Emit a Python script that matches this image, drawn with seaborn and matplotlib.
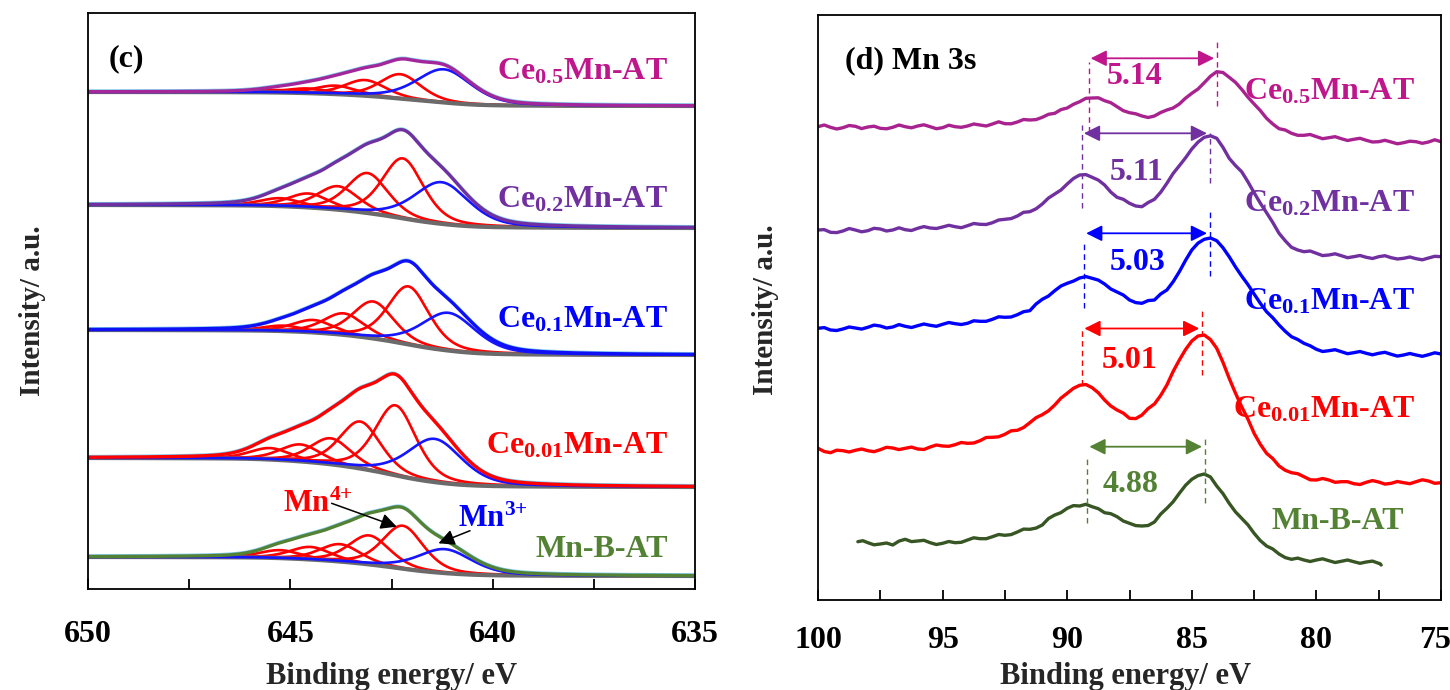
import numpy as np
import pandas as pd
import seaborn as sns
import matplotlib
matplotlib.use("Agg")
import matplotlib.pyplot as plt
import matplotlib.transforms as mtransforms
from matplotlib.ticker import MultipleLocator

# ---------------- Panel (c): Mn 2p3/2 fitted components ----------------
samples_c = ["Ce$_{0.5}$Mn-AT", "Ce$_{0.2}$Mn-AT", "Ce$_{0.1}$Mn-AT",
             "Ce$_{0.01}$Mn-AT", "Mn-B-AT"]
env_colors = ["#A3279A", "#7030A0", "#1010F5", "#FF0000", "#548235"]
text_colors_c = ["#C0168C", "#7030A0", "#0000FF", "#FF0000", "#548235"]
# background levels (a.u.) at low / high binding energy side
base_low = [483, 361, 234, 102, 13]
base_high = [497, 384, 259, 131, 32]
# Mn4+ multiplet components (eV, height a.u.)
mn4_centers = [[642.28, 643.15, 643.88, 644.58, 645.30],
               [642.22, 643.09, 643.82, 644.55, 645.25],
               [642.08, 642.95, 643.68, 644.43, 645.17],
               [642.40, 643.27, 644.00, 644.75, 645.50],
               [642.22, 643.05, 643.77, 644.50, 645.25]]
mn4_heights = [[24.3, 15.7, 8.5, 4.7, 2.5],
               [60.0, 40.0, 23.5, 14.0, 8.0],
               [58.0, 37.0, 21.5, 12.5, 5.5],
               [70.0, 47.0, 26.0, 17.0, 11.5],
               [43.0, 29.0, 17.4, 12.6, 8.0]]
# Mn3+ component
mn3_center = [641.20, 641.26, 641.09, 641.43, 641.18]
mn3_height = [33.2, 41.7, 37.8, 43.3, 24.0]

# ---------------- Panel (d): Mn 3s spectra ----------------
E_3s = [100.0, 99.75, 99.5, 99.25, 99.0, 98.75, 98.5, 98.25, 98.0, 97.75,
        97.5, 97.25, 97.0, 96.75, 96.5, 96.25, 96.0, 95.75, 95.5, 95.25,
        95.0, 94.75, 94.5, 94.25, 94.0, 93.75, 93.5, 93.25, 93.0, 92.75,
        92.5, 92.25, 92.0, 91.75, 91.5, 91.25, 91.0, 90.75, 90.5, 90.25,
        90.0, 89.75, 89.5, 89.25, 89.0, 88.75, 88.5, 88.25, 88.0, 87.75,
        87.5, 87.25, 87.0, 86.75, 86.5, 86.25, 86.0, 85.75, 85.5, 85.25,
        85.0, 84.75, 84.5, 84.25, 84.0, 83.75, 83.5, 83.25, 83.0, 82.75,
        82.5, 82.25, 82.0, 81.75, 81.5, 81.25, 81.0, 80.75, 80.5, 80.25,
        80.0, 79.75, 79.5, 79.25, 79.0, 78.75, 78.5, 78.25, 78.0, 77.75,
        77.5, 77.25, 77.0, 76.75, 76.5, 76.25, 76.0, 75.75, 75.5, 75.25, 75.0]
I_ce05 = [473.3, 475.0, 472.7, 471.0, 472.3, 474.5, 473.7, 471.4, 473.0, 473.8,
          471.7, 471.2, 472.7, 475.0, 473.3, 472.2, 474.0, 475.2, 473.3, 471.3,
          472.3, 474.8, 473.3, 472.7, 474.0, 476.0, 475.0, 474.0, 476.0, 478.2,
          476.3, 476.2, 478.0, 480.5, 480.0, 480.4, 482.7, 485.7, 486.7, 490.4,
          492.0, 495.7, 498.3, 501.7, 502.0, 502.2, 499.3, 497.3, 493.3, 489.3,
          487.3, 486.2, 484.0, 482.5, 484.0, 487.5, 490.0, 492.0, 496.0, 501.9,
          506.7, 511.0, 517.3, 523.8, 528.3, 527.5, 522.7, 517.7, 510.7, 502.9,
          496.0, 489.4, 481.7, 476.0, 471.3, 470.0, 466.7, 464.7, 464.7, 465.5,
          463.3, 461.3, 462.3, 463.3, 461.3, 459.5, 460.7, 461.7, 459.7, 458.0,
          458.3, 459.7, 458.0, 456.2, 457.3, 458.8, 458.3, 456.7, 458.0, 460.2, 458.3]
I_ce02 = [370.0, 370.4, 367.7, 367.4, 369.0, 371.5, 370.0, 368.2, 369.3, 371.7,
          371.0, 369.0, 370.0, 372.2, 370.3, 369.5, 371.7, 373.4, 372.0, 371.5,
          373.0, 374.7, 373.3, 372.3, 374.3, 376.5, 375.7, 375.5, 377.3, 380.0,
          380.7, 381.4, 384.0, 387.7, 388.3, 391.2, 396.0, 402.0, 406.0, 410.0,
          416.0, 421.5, 425.0, 425.4, 422.7, 419.9, 415.0, 407.9, 402.7, 400.7,
          396.7, 394.0, 393.3, 397.5, 400.7, 407.7, 416.7, 426.5, 434.3, 442.2,
          451.0, 457.9, 462.7, 464.2, 461.7, 452.7, 441.7, 434.5, 428.3, 418.3,
          407.3, 396.8, 387.3, 377.5, 366.7, 359.2, 352.7, 350.0, 348.3, 349.0,
          346.7, 344.4, 345.0, 346.2, 344.3, 342.3, 343.3, 344.5, 342.7, 341.5,
          343.3, 344.3, 342.3, 341.0, 341.7, 343.0, 341.3, 340.2, 342.0, 343.7, 343.3]
I_ce01 = [271.7, 272.4, 270.0, 269.5, 271.0, 273.0, 272.0, 270.9, 272.7, 274.9,
          274.0, 272.0, 273.0, 275.4, 273.7, 272.5, 274.3, 276.0, 274.7, 273.7,
          275.7, 277.5, 276.3, 275.5, 276.7, 279.2, 278.7, 278.7, 280.7, 283.2,
          282.7, 283.0, 285.3, 288.3, 289.3, 296.0, 300.7, 304.0, 309.3, 314.0,
          316.7, 318.9, 322.0, 323.4, 321.7, 319.9, 316.0, 311.0, 308.0, 305.0,
          300.0, 297.4, 296.7, 299.4, 300.0, 306.0, 310.0, 318.2, 328.3, 339.7,
          350.0, 356.9, 360.7, 362.0, 359.3, 352.3, 343.3, 333.2, 324.0, 315.5,
          306.0, 296.7, 288.3, 282.2, 275.0, 268.7, 263.3, 260.5, 256.7, 254.2,
          250.7, 248.5, 249.3, 250.3, 248.3, 246.3, 247.3, 248.5, 246.7, 245.2,
          246.7, 247.7, 245.7, 243.9, 245.0, 246.5, 245.0, 243.7, 245.3, 247.2, 246.0]
I_ce001 = [151.7, 148.5, 147.3, 149.8, 149.3, 148.0, 149.7, 151.0, 149.3, 148.3,
           150.3, 152.7, 152.0, 150.4, 151.7, 152.9, 151.0, 150.5, 153.0, 155.0,
           154.0, 153.7, 155.3, 157.5, 156.7, 157.0, 159.3, 162.5, 162.7, 163.2,
           165.7, 169.2, 169.7, 172.5, 177.3, 182.3, 185.3, 189.2, 195.0, 201.9,
           206.7, 211.7, 214.7, 215.5, 212.3, 207.2, 200.0, 194.0, 190.0, 186.9,
           181.7, 181.4, 185.0, 191.5, 196.0, 204.5, 215.0, 228.5, 240.0, 250.5,
           259.0, 264.0, 265.0, 260.4, 251.7, 237.7, 221.7, 207.0, 193.3, 181.0,
           166.7, 155.7, 146.7, 141.4, 134.0, 129.7, 127.3, 126.3, 123.3, 120.2,
           120.0, 121.5, 120.0, 117.7, 118.3, 118.3, 116.3, 115.5, 117.7, 119.4,
           118.0, 115.9, 116.7, 118.5, 117.3, 116.3, 118.3, 120.2, 119.0, 116.7, 117.3]
E_mnb = [98.4, 98.2, 98.0, 97.75, 97.5, 97.25, 97.0, 96.75, 96.5, 96.25,
         96.0, 95.75, 95.5, 95.25, 95.0, 94.75, 94.5, 94.25, 94.0, 93.75,
         93.5, 93.25, 93.0, 92.75, 92.5, 92.25, 92.0, 91.75, 91.5, 91.25,
         91.0, 90.75, 90.5, 90.25, 90.0, 89.75, 89.5, 89.25, 89.0, 88.75,
         88.5, 88.25, 88.0, 87.75, 87.5, 87.25, 87.0, 86.75, 86.5, 86.25,
         86.0, 85.75, 85.5, 85.25, 85.0, 84.75, 84.5, 84.25, 84.0, 83.75,
         83.5, 83.25, 83.0, 82.75, 82.5, 82.25, 82.0, 81.75, 81.5, 81.25,
         81.0, 80.75, 80.5, 80.25, 80.0, 79.75, 79.5, 79.25, 79.0, 78.75,
         78.5, 78.25, 78.0, 77.75, 77.5, 77.45, 77.4]
I_mnb = [58.3, 59.3, 57.3, 55.2, 56.0, 57.0, 55.0, 58.9, 60.7, 58.4,
         59.0, 59.7, 57.3, 55.5, 56.7, 58.5, 57.3, 57.7, 60.0, 62.2,
         61.3, 61.3, 63.3, 65.5, 64.7, 65.4, 68.0, 70.9, 70.7, 71.9,
         75.0, 81.5, 85.0, 87.4, 91.7, 94.4, 94.0, 95.7, 93.3, 91.3,
         87.3, 86.3, 83.3, 79.0, 76.7, 74.4, 74.0, 74.5, 78.0, 85.9,
         91.7, 98.2, 106.7, 114.7, 120.7, 124.4, 126.0, 123.0, 114.0, 106.4,
         96.7, 88.2, 81.7, 75.2, 66.7, 59.4, 54.0, 51.0, 46.0, 42.4,
         40.7, 41.9, 40.0, 38.5, 40.0, 41.2, 39.3, 37.5, 38.7, 40.0,
         38.3, 36.7, 38.0, 38.9, 36.7, 36.4, 35.0]

samples_d = ["Ce$_{0.5}$Mn-AT", "Ce$_{0.2}$Mn-AT", "Ce$_{0.1}$Mn-AT",
             "Ce$_{0.01}$Mn-AT", "Mn-B-AT"]
line_colors_d = ["#A8238F", "#7030A0", "#0000FF", "#FF0000", "#375623"]
text_colors_d = ["#C0168C", "#7030A0", "#0000FF", "#FF0000", "#548235"]
# multiplet splitting: peak positions (eV) and labels
split_left = [89.14, 89.41, 89.32, 89.39, 89.19]
split_right = [83.98, 84.27, 84.27, 84.58, 84.47]
split_labels = ["5.14", "5.11", "5.03", "5.01", "4.88"]

# ---------------- style ----------------
sns.set_theme(style="white")
plt.rcParams["font.family"] = ["Liberation Serif", "DejaVu Serif"]
plt.rcParams["font.weight"] = "bold"
plt.rcParams["mathtext.fontset"] = "custom"
plt.rcParams["mathtext.rm"] = "Liberation Serif:bold"
plt.rcParams["mathtext.bf"] = "Liberation Serif:bold"
plt.rcParams["mathtext.it"] = "Liberation Serif:bold"
plt.rcParams["axes.unicode_minus"] = False

fig = plt.figure(figsize=(14.5, 6.9), dpi=100)
axL = fig.add_axes([88 / 1450, 101 / 690, 607 / 1450, 576 / 690])
axR = fig.add_axes([818 / 1450, 90 / 690, 623 / 1450, 585 / 690])


def pv(E, c, h, w, eta=0.4):
    r2 = ((E - c) / w) ** 2
    return h * ((1 - eta) * np.exp(-4 * np.log(2) * r2) + eta / (1 + 4 * r2))


E = np.linspace(635, 650, 1501)
W_RED, W_BLUE = 1.2, 1.6
for k in range(5):
    reds = [pv(E, c, h, W_RED) for c, h in zip(mn4_centers[k], mn4_heights[k])]
    blue = pv(E, mn3_center[k], mn3_height[k], W_BLUE)
    total = np.sum(reds, axis=0) + blue
    A = np.cumsum(total)
    A = A / A[-1]
    base = base_low[k] + (base_high[k] - base_low[k]) * A
    for r in reds:
        sns.lineplot(x=E, y=base + r, ax=axL, color="#FF0000", linewidth=1.9,
                     estimator=None, sort=False, legend=False)
    sns.lineplot(x=E, y=base, ax=axL, color="#6b6b6b", linewidth=3.0,
                 estimator=None, sort=False, legend=False)
    sns.lineplot(x=E, y=base + blue, ax=axL, color="#1515FF", linewidth=1.9,
                 estimator=None, sort=False, legend=False)
    sns.lineplot(x=E, y=base + total + 1.0, ax=axL, color="#7cc8ec", linewidth=2.0,
                 estimator=None, sort=False, legend=False)
    sns.lineplot(x=E, y=base + total, ax=axL, color=env_colors[k], linewidth=2.4,
                 estimator=None, sort=False, legend=False)

label_base_c = [510, 381, 262, 136, 32]
for k in range(5):
    axL.text(635.67, label_base_c[k], samples_c[k], color=text_colors_c[k],
             fontsize=23, fontweight="bold", ha="right", va="baseline")
axL.text(649.5, 523, "(c)", fontsize=23, fontweight="bold", ha="left",
         va="baseline", color="black")
axL.text(645.18, 77, "Mn$^{4{+}}$", fontsize=22, color="#FF0000", ha="left",
         va="baseline")
axL.text(640.86, 62, "Mn$^{3{+}}$", fontsize=22, color="#0000FF", ha="left",
         va="baseline")
axL.annotate("", xy=(642.37, 62.3), xytext=(643.98, 85.7),
             arrowprops=dict(arrowstyle="-|>", color="black", lw=1.1,
                             mutation_scale=24, shrinkA=0, shrinkB=0))
axL.annotate("", xy=(641.34, 45.7), xytext=(640.56, 58.3),
             arrowprops=dict(arrowstyle="-|>", color="black", lw=1.1,
                             mutation_scale=24, shrinkA=0, shrinkB=0))

axL.set_xlim(650, 635)
axL.set_ylim(0, 576)

# ---------------- Panel (d) ----------------
spectra = [(E_3s, I_ce05), (E_3s, I_ce02), (E_3s, I_ce01), (E_3s, I_ce001),
           (E_mnb, I_mnb)]
for k, (x, y) in enumerate(spectra):
    sns.lineplot(x=x, y=y, ax=axR, color=line_colors_d[k], linewidth=2.4,
                 estimator=None, sort=False, legend=False)

arrow_y = [541.7, 466.7, 366.7, 271.5, 153.3]
dash_left = [(468, 538), (392, 475), (292, 358), (215, 270), (77, 143)]
dash_right = [(494, 560), (417, 467), (324, 390), (225, 290), (97, 163)]
num_pos = [(87.28, 523), (87.20, 427), (87.16, 338), (87.48, 240), (87.44, 115)]
label_base_d = [500, 389, 291, 183, 71]
label_x_d = [76.04, 76.04, 76.04, 76.04, 76.5]
for k in range(5):
    c = text_colors_d[k]
    axR.plot([split_left[k]] * 2, dash_left[k], color=c, lw=1.0, ls=(0, (4, 3)))
    axR.plot([split_right[k]] * 2, dash_right[k], color=c, lw=1.0, ls=(0, (4, 3)))
    axR.annotate("", xy=(split_right[k] + 0.12, arrow_y[k]),
                 xytext=(split_left[k] - 0.08, arrow_y[k]),
                 arrowprops=dict(arrowstyle="<|-|>", color=c, lw=1.3,
                                 mutation_scale=24, shrinkA=0, shrinkB=0))
    axR.text(num_pos[k][0], num_pos[k][1], split_labels[k], color=c, fontsize=23,
             fontweight="bold", ha="center", va="center")
    axR.text(label_x_d[k], label_base_d[k], samples_d[k], color=c, fontsize=23,
             fontweight="bold", ha="right", va="baseline")
axR.text(98.92, 532, "(d) Mn 3s", fontsize=23, fontweight="bold", ha="left",
         va="baseline", color="black")

axR.set_xlim(100, 75)
axR.set_ylim(0, 585)

# ---------------- axes cosmetics ----------------
for ax, ticks, pad in [(axL, [650, 645, 640, 635], 22), (axR, [100, 95, 90, 85, 80, 75], 19)]:
    ax.set_xticks(ticks)
    ax.xaxis.set_minor_locator(MultipleLocator(2.5))
    ax.set_yticks([])
    ax.tick_params(axis="x", which="both", direction="in", length=7, width=1.3,
                   bottom=True, top=False, labelsize=23, pad=pad, colors="black")
    for lab in ax.get_xticklabels():
        lab.set_fontweight("bold")
    for s in ax.spines.values():
        s.set_visible(True)
        s.set_color("black")
        s.set_linewidth(1.3)
    ax.set_xlabel("Binding energy/ eV", fontsize=22, fontweight="bold", va="top")
    ax.set_ylabel("Intensity/ a.u.", fontsize=21, fontweight="bold", va="center")

# keep the last tick label of panel (d) inside the figure
last = axR.get_xticklabels()[-1]
last.set_transform(last.get_transform() +
                   mtransforms.ScaledTranslation(-0.06, 0, fig.dpi_scale_trans))

axL.xaxis.set_label_coords(0.5, -0.127)
axR.xaxis.set_label_coords(0.494, -0.106)
axL.yaxis.set_label_coords(-0.091, 0.484)
axR.yaxis.set_label_coords(-0.085, 0.496)

fig.savefig("out.png", dpi=100)
